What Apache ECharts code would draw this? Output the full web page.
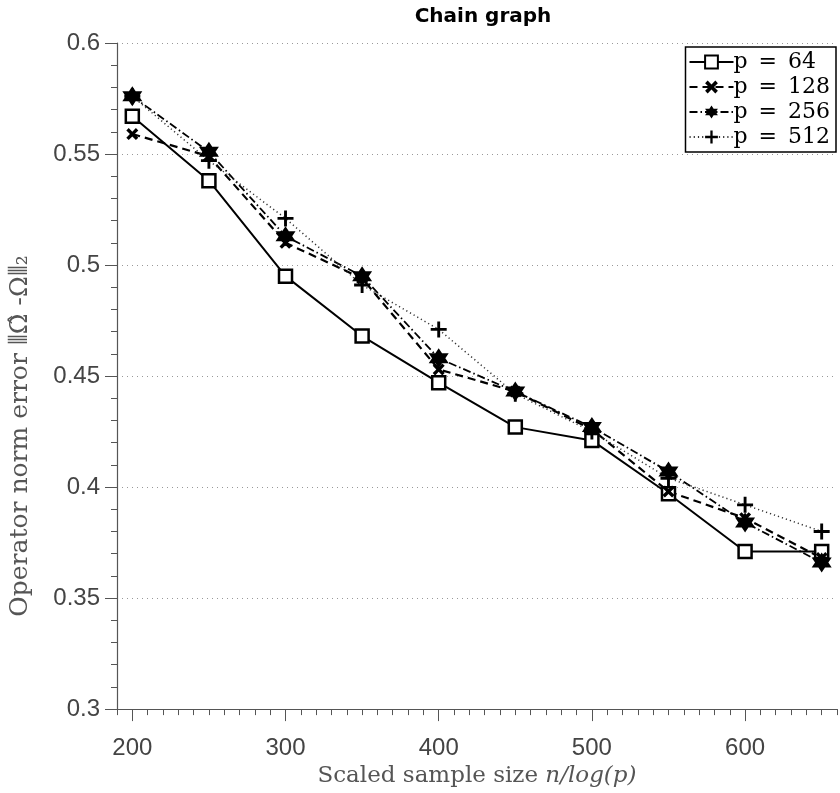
<!DOCTYPE html>
<html>
<head>
<meta charset="utf-8">
<script src="https://cdn.jsdelivr.net/npm/echarts@6/dist/echarts.min.js"></script>
<style>html,body{margin:0;padding:0;background:#fff}#c{width:840px;height:793px}</style>
</head>
<body>
<div id="c"></div>
<script>
const xValues = [200, 250, 300, 350, 400, 450, 500, 550, 600, 650];
const p64  = [0.567, 0.538, 0.495, 0.468, 0.447, 0.427, 0.421, 0.397, 0.371, 0.371];
const p128 = [0.559, 0.549, 0.510, 0.494, 0.453, 0.443, 0.426, 0.398, 0.386, 0.368];
const p256 = [0.576, 0.551, 0.513, 0.495, 0.458, 0.443, 0.427, 0.407, 0.384, 0.366];
const p512 = [0.576, 0.547, 0.521, 0.491, 0.471, 0.442, 0.425, 0.404, 0.392, 0.380];
const xMajorTicks = [200, 300, 400, 500, 600];
const seriesNames = ['p = 64', 'p = 128', 'p = 256', 'p = 512'];

const pair = arr => xValues.map((x, i) => [x, arr[i]]);

const X_PATH = 'path://M0,2 L2,0 L5,3 L8,0 L10,2 L7,5 L10,8 L8,10 L5,7 L2,10 L0,8 L3,5 Z';
const PLUS_PATH = 'path://M4.1,0 H5.9 V4.1 H10 V5.9 H5.9 V10 H4.1 V5.9 H0 V4.1 H4.1 Z';
const STAR_PATH = 'path://M5,0 L6.443,2.5 L9.33,2.5 L7.887,5 L9.33,7.5 L6.443,7.5 L5,10 L3.557,7.5 L0.67,7.5 L2.113,5 L0.67,2.5 L3.557,2.5 Z ' +
                  'M6.1,5 L5.55,4.05 L4.45,4.05 L3.9,5 L4.45,5.95 L5.55,5.95 Z M6.1,5 L5.55,4.05 L4.45,4.05 L3.9,5 L4.45,5.95 L5.55,5.95 Z';

const chart = echarts.init(document.getElementById('c'));
const serif = '"DejaVu Serif", "Liberation Serif", serif';
const sans = '"Liberation Sans", Arial, sans-serif';

chart.setOption({
  animation: false,
  backgroundColor: '#fff',
  title: {
    text: 'Chain graph',
    left: 478, top: 2, textAlign: 'center',
    textStyle: {fontFamily: '"DejaVu Sans", sans-serif', fontWeight: 'bold', fontSize: 20, color: '#000'}
  },
  legend: {
    data: seriesNames,
    orient: 'vertical',
    right: 4, top: 47,
    itemWidth: 44, itemHeight: 16, itemGap: 3,
    backgroundColor: '#fff',
    borderColor: '#000', borderWidth: 1.5, borderRadius: 0,
    padding: [4, 6, 4, 3],
    formatter: name => name.replace(/ = /, '\u2002=\u2002'),
    textStyle: {fontFamily: serif, fontSize: 22, color: '#000', padding: [0, 0, 0, -5]}
  },
  grid: {left: 117, right: 0, top: 43, bottom: 83, containLabel: false},
  xAxis: [{
    type: 'value', min: 190, max: 660, interval: 10,
    position: 'bottom',
    axisLine: {show: true, onZero: false, lineStyle: {color: '#555', width: 1.2}},
    axisTick: {show: true, length: 6, lineStyle: {color: '#555'}},
    axisLabel: {
      margin: 27, fontFamily: sans, fontSize: 24, color: '#444',
      formatter: v => (Math.abs(v % 100) < 1e-6 && v >= 200 && v <= 600) ? String(v) : ''
    },
    splitLine: {show: false},
    name: '{a|Scaled sample size }{b|n/log(p)}',
    nameLocation: 'middle', nameGap: 53,
    nameTextStyle: {
      rich: {
        a: {fontFamily: serif, fontSize: 23, color: '#555'},
        b: {fontFamily: serif, fontStyle: 'italic', fontSize: 23, color: '#555'}
      }
    }
  }, {
    type: 'value', min: 190, max: 660,
    position: 'bottom', offset: 0,
    axisLine: {show: false},
    axisTick: {show: true, length: 12, customValues: xMajorTicks, lineStyle: {color: '#555'}},
    axisLabel: {show: false},
    splitLine: {show: false}
  }],
  yAxis: {
    type: 'value', min: 0.3, max: 0.6, interval: 0.05,
    axisLine: {show: true, lineStyle: {color: '#555', width: 1.2}},
    axisTick: {show: true, length: 12, lineStyle: {color: '#555'}},
    minorTick: {show: true, splitNumber: 5, length: 6, lineStyle: {color: '#555'}},
    axisLabel: {margin: 17, fontFamily: sans, fontSize: 24, color: '#444'},
    splitLine: {show: true, lineStyle: {type: [1, 4], color: '#999', width: 1}},
    name: 'Operator norm error ⦀Ω̂ -Ω⦀₂',
    nameLocation: 'middle', nameGap: 84,
    nameTextStyle: {fontFamily: serif, fontSize: 25, color: '#555', padding: [0, 120, 0, 0]}
  },
  series: [{
    name: seriesNames[0], type: 'line', data: pair(p64),
    symbol: 'rect', symbolSize: 13,
    lineStyle: {color: '#000', width: 2, type: 'solid'},
    itemStyle: {color: '#fff', borderColor: '#000', borderWidth: 2.5}
  }, {
    name: seriesNames[1], type: 'line', data: pair(p128),
    symbol: X_PATH, symbolSize: 12,
    lineStyle: {color: '#000', width: 2.2, type: [8, 5]},
    itemStyle: {color: '#000'}
  }, {
    name: seriesNames[2], type: 'line', data: pair(p256),
    symbol: STAR_PATH, symbolSize: 20,
    lineStyle: {color: '#000', width: 1.8, type: [8, 3, 1.5, 3]},
    itemStyle: {color: '#000'}
  }, {
    name: seriesNames[3], type: 'line', data: pair(p512),
    symbol: PLUS_PATH, symbolSize: 16,
    lineStyle: {color: '#333', width: 1.5, type: [1.2, 3]},
    itemStyle: {color: '#000'}
  }]
});
</script>
</body>
</html>
